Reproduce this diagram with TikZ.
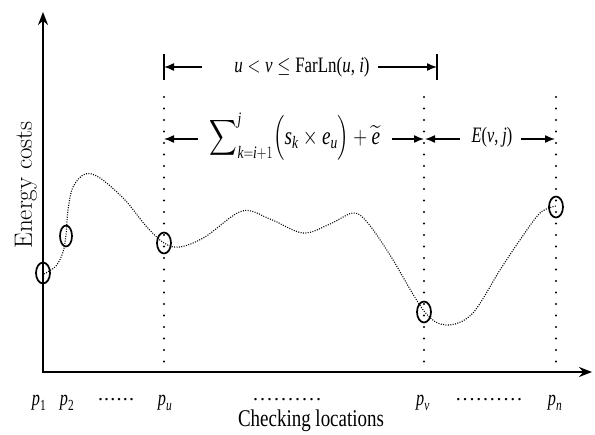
\RequirePackage{fix-cm}
\documentclass[tikz,border=0pt]{standalone}
\usepackage{amsmath}
\usepackage{exscale}
\usepackage{fontspec}
\newfontfamily\tnr{Liberation Serif}
\newcommand\ti[1]{\text{\tnr\itshape #1}}
\newcommand\tu[1]{\text{\tnr #1}}
\newcommand\dotrow[2]{\foreach \k in {1,...,#1}{.\hspace{#2}}\unskip}
\usetikzlibrary{shapes.geometric,arrows.meta}
\tikzset{
  axis/.style={line width=1.8pt,-{Stealth[length=13pt,width=10pt]}},
  vguide/.style={line width=2.2pt,line cap=round,dash pattern=on 0pt off 11.5pt},
  curveline/.style={line width=1.1pt,dash pattern=on 1pt off 1.4pt},
  pt/.style={draw,ellipse,line width=1.7pt,minimum width=14pt,minimum height=21pt,inner sep=0pt},
  span/.style={line width=1.4pt,-{Latex[length=10pt,width=8pt]}},
  bar/.style={line width=1.6pt},
  lbl/.style={inner sep=0pt,font=\tnr\fontsize{22}{22}\selectfont},
  dotlbl/.style={inner sep=0pt,font=\tnr\fontsize{20}{20}\selectfont},
}
\begin{document}
\begin{tikzpicture}[x=1pt,y=-1pt]
\useasboundingbox (0,0) rectangle (595,435);
% axes
\coordinate (O) at (43,372);
\coordinate (ytop) at (43,12);
\coordinate (xend) at (592,372);
\draw[axis] (O) -- (ytop);
\draw[axis] ([xshift=-0.9pt]O) -- (xend);
% vertical guides
\coordinate (gu1) at (164,97); \coordinate (gu2) at (164,368);
\coordinate (gv1) at (424,97); \coordinate (gv2) at (424,368);
\coordinate (gn1) at (556,97); \coordinate (gn2) at (556,368);
\draw[vguide] (gu1) -- (gu2);
\draw[vguide] (gv1) -- (gv2);
\draw[vguide] (gn1) -- (gn2);
% curve
\draw[curveline] plot[smooth,tension=0.55] coordinates {
 (44,274) (56,266) (63,252) (66,235) (68,210) (73,187) (85,174) (100,178) (125,200) (146,226) (164,243)
 (180,247) (205,237) (242,211) (270,219) (303,233) (330,224) (353,213) (367,222)
 (390,255) (424,311) (446,325) (472,314) (500,270) (520,240) (540,213) (556,206)};
% point circles
\node[pt] (c1) at (43,273) {};
\node[pt,minimum width=12pt] (c2) at (66,236) {};
\node[pt] (cu) at (164,243) {};
\node[pt] (cv) at (424,312) {};
\node[pt] (cn) at (556,207) {};
% top span
\coordinate (tL) at (164,67); \coordinate (tLa) at (202,67);
\coordinate (tR) at (437,67); \coordinate (tRa) at (378,67);
\draw[bar] (164,54) -- (164,80);
\draw[bar] (437,54) -- (437,80);
\draw[span] (tLa) -- (tL);
\draw[span] (tRa) -- (tR);
\node[lbl] (ttext) at (302,67) {\scalebox{0.77}[1]{$\ti{u}<\ti{v}\le\tu{FarLn}\tu{(}\ti{u}\tu{, }\ti{i}\tu{)}$}};
% middle spans
\coordinate (mL) at (164,139); \coordinate (mLa) at (198,139);
\coordinate (mR) at (424,139); \coordinate (mRa) at (392,139);
\coordinate (nL) at (425,139); \coordinate (nLa) at (460,139);
\coordinate (nR) at (555,139); \coordinate (nRa) at (521,139);
\draw[span] (mLa) -- (mL);
\draw[span] (mRa) -- (mR);
\draw[span] (nLa) -- (nL);
\draw[span] (nRa) -- (nR);
\node[lbl,font=\tnr\fontsize{25}{25}\selectfont] (mtext) at (295,137) {\scalebox{0.77}[1]{$\displaystyle\sum\nolimits_{\ti{k}=\ti{i}+1}^{\ti{j}}\Bigl(\ti{s}_{\ti{k}}\times\ti{e}_{\ti{u}}\Bigr)+\widetilde{\ti{e}}$}};
\node[lbl] (ntext) at (492,137) {\scalebox{0.74}[1]{$\ti{E}\tu{(}\ti{v}\tu{, }\ti{j}\tu{)}$}};
% axis labels
\node[inner sep=0pt,rotate=90,font=\fontsize{25}{25}\selectfont] (ylab) at (26,185) {Energy costs};
\node[lbl] (p1) at (39,403) {\scalebox{0.74}[1]{$\ti{p}_{\tu{1}}$}};
\node[lbl] (p2) at (67,403) {\scalebox{0.74}[1]{$\ti{p}_{\tu{2}}$}};
\node[dotlbl] (d1) at (116,400) {\dotrow{6}{1.2pt}};
\node[lbl] (pu) at (165,403) {\scalebox{0.74}[1]{$\ti{p}_{\ti{u}}$}};
\node[dotlbl] (d2) at (287,400) {\dotrow{10}{2pt}};
\node[lbl] (pv) at (423,403) {\scalebox{0.74}[1]{$\ti{p}_{\ti{v}}$}};
\node[dotlbl] (d3) at (489,400) {\dotrow{10}{1.8pt}};
\node[lbl] (pn) at (555,403) {\scalebox{0.74}[1]{$\ti{p}_{\ti{n}}$}};
\node[lbl,font=\tnr\fontsize{24}{24}\selectfont] (xlab) at (311,421) {\scalebox{0.79}[1]{Checking locations}};
\end{tikzpicture}
\end{document}
